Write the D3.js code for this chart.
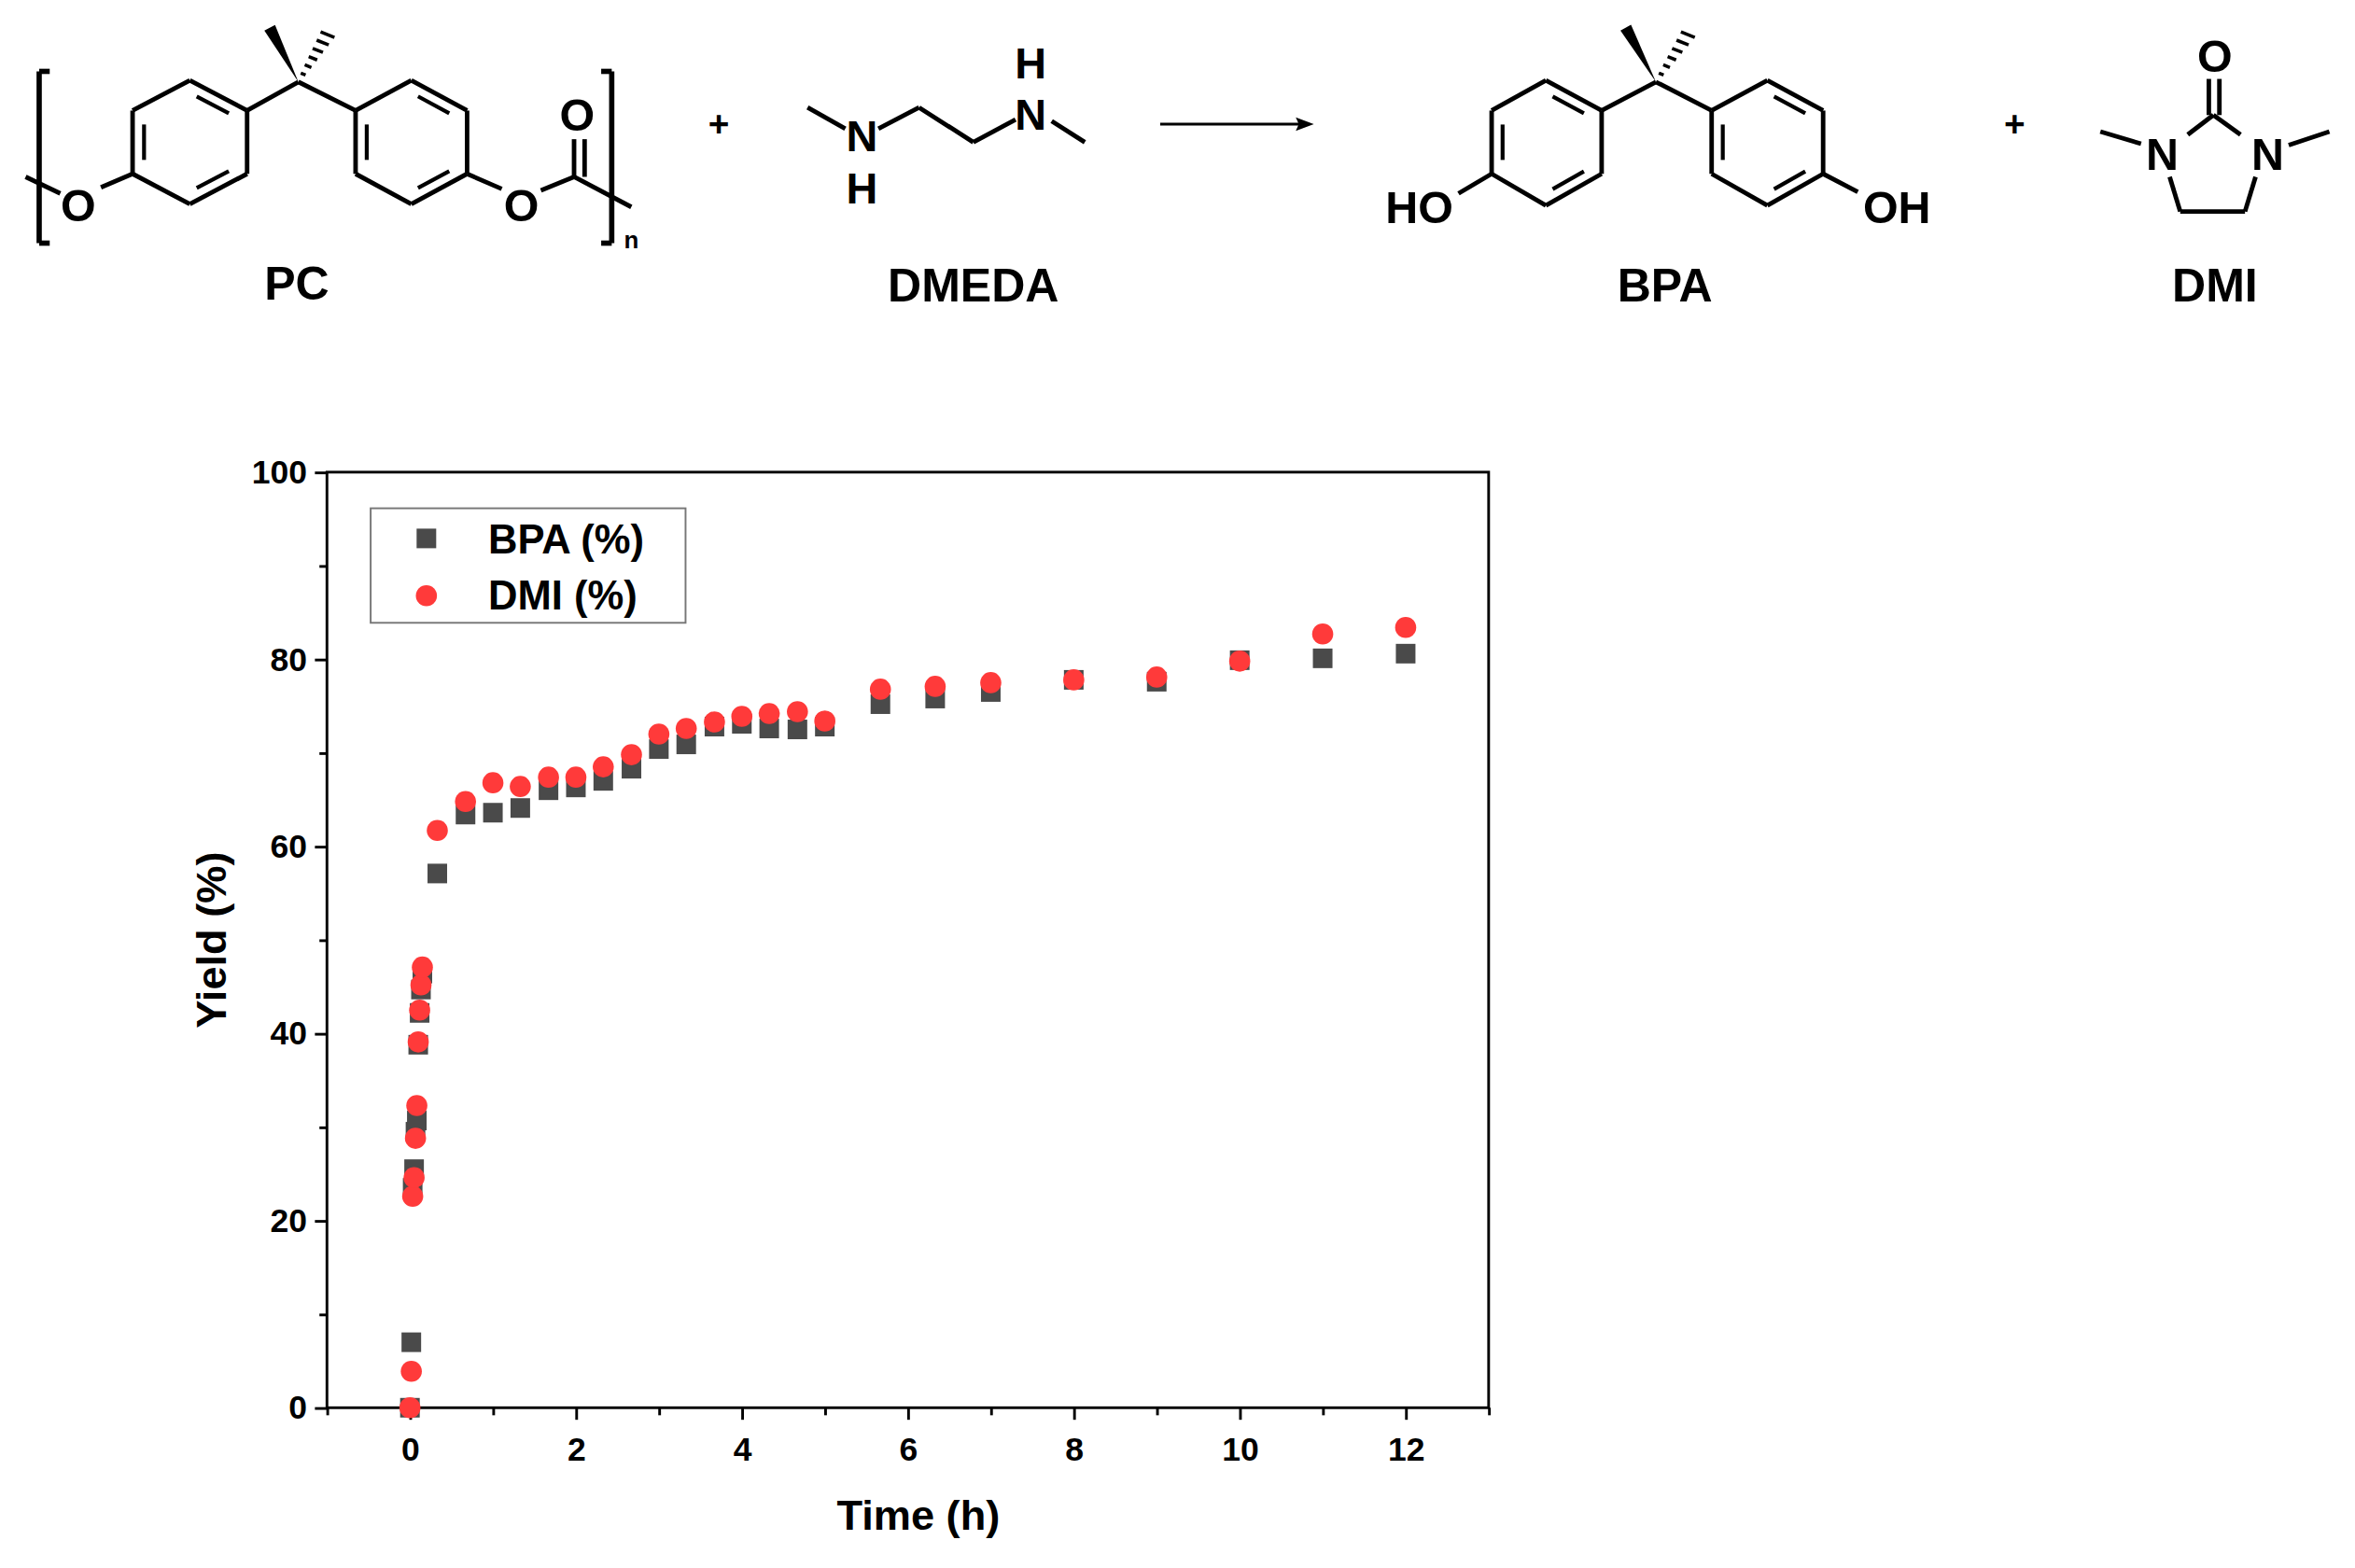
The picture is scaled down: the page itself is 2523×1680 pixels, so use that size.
<!DOCTYPE html>
<html><head><meta charset="utf-8">
<script src="https://cdn.jsdelivr.net/npm/d3@7"></script>
<style>body{margin:0;background:#fff}svg{display:block}</style>
</head><body>
<script>
const time = [0,0.0167,0.033,0.05,0.067,0.083,0.1,0.117,0.133,0.15,0.33,0.67,1,1.33,1.67,2,2.33,2.67,3,3.33,3.67,4,4.33,4.67,5,5.67,6.33,7,8,9,10,11,12];
const bpa = [0,7.0,23.5,25.5,29.5,30.7,38.8,42.2,44.7,46.4,57.1,63.4,63.6,64.1,66.0,66.3,67.0,68.3,70.4,70.9,72.8,73.1,72.6,72.5,72.8,75.2,75.8,76.5,77.8,77.6,79.9,80.1,80.6];
const dmi = [0,3.9,22.6,24.6,28.8,32.3,39.1,42.5,45.2,47.1,61.7,64.8,66.8,66.4,67.4,67.4,68.5,69.8,72.0,72.6,73.3,73.9,74.2,74.4,73.4,76.8,77.1,77.5,77.8,78.1,79.8,82.7,83.4];
const xTicks = [0,2,4,6,8,10,12];
const yTicks = [0,20,40,60,80,100];
const seriesNames = ["BPA (%)","DMI (%)"];

const svg = d3.select("body").append("svg").attr("width",2523).attr("height",1680).attr("viewBox","0 0 1563 1040");
const F = "Liberation Sans, Arial, sans-serif";
const L=217,R=988,T=313,B=934;
const x = d3.scaleLinear().domain([-1,13]).range([L,R]);
const y = d3.scaleLinear().domain([0,100]).range([B,T]);

svg.append("rect").attr("x",L).attr("y",T).attr("width",R-L).attr("height",B-T).attr("fill","none").attr("stroke","#000").attr("stroke-width",1.8);
const xa = svg.append("g").attr("transform",`translate(0,${B})`).call(d3.axisBottom(x).tickValues(xTicks).tickSize(8).tickFormat(d3.format("d")));
const xm = svg.append("g").attr("transform",`translate(0,${B})`).call(d3.axisBottom(x).tickValues(d3.range(-1,14,2)).tickSize(5).tickFormat(""));
const ya = svg.append("g").attr("transform",`translate(${L},0)`).call(d3.axisLeft(y).tickValues(yTicks).tickSize(8));
const ym = svg.append("g").attr("transform",`translate(${L},0)`).call(d3.axisLeft(y).tickValues(d3.range(10,100,20)).tickSize(5).tickFormat(""));
[xa,xm,ya,ym].forEach(g=>{g.select(".domain").remove();g.selectAll("line").attr("stroke","#000").attr("stroke-width",1.8);
 g.selectAll("text").attr("font-family",F).attr("font-weight","bold").attr("font-size",22).attr("fill","#000");});
xa.selectAll("text").attr("dy","1.1em");
ya.selectAll("text").attr("dx","-0.1em");
svg.append("text").attr("x",(L+R)/2+7).attr("y",1015).attr("text-anchor","middle").attr("font-family",F).attr("font-weight","bold").attr("font-size",28).text("Time (h)");
svg.append("text").attr("transform",`translate(150,${(T+B)/2}) rotate(-90)`).attr("text-anchor","middle").attr("font-family",F).attr("font-weight","bold").attr("font-size",28).text("Yield (%)");

const s=13;
svg.append("g").selectAll("rect").data(time).join("rect").attr("x",(d)=>x(d)-s/2).attr("y",(d,i)=>y(bpa[i])-s/2).attr("width",s).attr("height",s).attr("fill","#4a4a4a");
svg.append("g").selectAll("circle").data(time).join("circle").attr("cx",d=>x(d)).attr("cy",(d,i)=>y(dmi[i])).attr("r",7).attr("fill","#ff3a3a");

svg.append("rect").attr("x",246).attr("y",337).attr("width",209).attr("height",76).attr("fill","#fff").attr("stroke","#777").attr("stroke-width",1.2);
svg.append("rect").attr("x",283-s/2).attr("y",357-s/2).attr("width",s).attr("height",s).attr("fill","#4a4a4a");
svg.append("circle").attr("cx",283).attr("cy",395).attr("r",7).attr("fill","#ff3a3a");
seriesNames.forEach((n,i)=>svg.append("text").attr("x",324).attr("y",367+i*37).attr("font-family",F).attr("font-weight","bold").attr("font-size",27).text(n));

// ---- reaction scheme ----
const sc = svg.append("g").attr("stroke","#000").attr("stroke-width",3).attr("fill","none").attr("stroke-linecap","butt");
function line(a,b,w){sc.append("line").attr("x1",a[0]).attr("y1",a[1]).attr("x2",b[0]).attr("y2",b[1]).attr("stroke-width",w||3);}
function ring(v){
  for(let i=0;i<6;i++) line(v[i],v[(i+1)%6]);
  const c=[d3.mean(v,p=>p[0]),d3.mean(v,p=>p[1])];
  [[0,1],[2,3],[4,5]].forEach(([i,j])=>{
    const a=v[i],b=v[j];
    const p=t=>[a[0]+(b[0]-a[0])*t,a[1]+(b[1]-a[1])*t];
    const q=pt=>[pt[0]+(c[0]-pt[0])*0.2,pt[1]+(c[1]-pt[1])*0.2];
    line(q(p(0.15)),q(p(0.85)),2.6);
  });
}
function txt(t,xx,yy,size,bold){svg.append("text").attr("x",xx).attr("y",yy).attr("text-anchor","middle").attr("dominant-baseline","central")
  .attr("font-family",F).attr("font-weight","bold").attr("font-size",size).text(t);}
function wedge(c,tip){const dx=tip[0]-c[0],dy=tip[1]-c[1],l=Math.hypot(dx,dy),nx=-dy/l*4,ny=dx/l*4;
  svg.append("path").attr("d",`M${c[0]},${c[1]}L${tip[0]+nx},${tip[1]+ny}L${tip[0]-nx},${tip[1]-ny}Z`).attr("fill","#000");}
function hash(c,tip){for(let k=1;k<=6;k++){const t=k/6.5,px=c[0]+(tip[0]-c[0])*t,py=c[1]+(tip[1]-c[1])*t,h=1+k*0.6;
  line([px-h,py-h*0.4],[px+h,py+h*0.4],2.2);}}

ring([[126,53],[164,73],[164,115],[126,135],[88,115],[88,73]]);
ring([[273,53],[310,73],[310,115],[273,135],[236,115],[236,73]]);
line([164,73],[198,54]);line([198,54],[236,73]);
wedge([198,54],[179,18]);hash([198,54],[219,20]);
line([88,115],[67,124]);txt("O",52,136,30);line([40,128],[17,117]);
line([310,115],[333,125]);txt("O",346,136,30);line([359,126],[381,117]);
line([381,117],[381,92]);line([388,117],[388,92]);txt("O",383,76,30);
line([381,117],[419,137]);
line([26,47],[26,161],3.5);line([26,47],[33,47],3.5);line([26,161],[33,161],3.5);
line([406,47],[406,161],3.5);line([399,47],[406,47],3.5);line([399,161],[406,161],3.5);
txt("n",419,159,16);
txt("PC",197,188,31,true);
txt("+",477,82,24,true);
line([536,71],[561,85]);txt("N",572,90,29);txt("H",572,125,29);
line([583,85],[610,71]);line([610,71],[646,94]);line([646,94],[674,79]);
txt("N",684,76,29);txt("H",684,42,29);line([698,80],[720,94]);
txt("DMEDA",646,189,31,true);
line([770,82],[864,82],1.8);
svg.append("path").attr("d","M872,82L860,77.5L862,82L860,86.5Z").attr("fill","#000");
ring([[1026,53],[1063,73],[1063,115],[1026,136],[990,115],[990,73]]);
ring([[1173,53],[1210,73],[1210,115],[1173,136],[1136,115],[1136,73]]);
line([1063,73],[1099,54]);line([1099,54],[1136,73]);
wedge([1099,54],[1079,18]);hash([1099,54],[1122,20]);
line([990,115],[968,128]);txt("HO",942,137,30);
line([1210,115],[1233,127]);txt("OH",1259,137,30);
txt("BPA",1105,189,31,true);
txt("+",1337,82,24,true);
txt("O",1470,37,30);line([1466,52],[1466,76]);line([1473,52],[1473,76]);
line([1469,76],[1452,89]);line([1469,76],[1487,89]);
txt("N",1435,102,30);txt("N",1505,102,30);
line([1421,95],[1394,87]);line([1519,96],[1546,87]);
line([1440,117],[1447,140]);line([1447,140],[1490,140]);line([1490,140],[1497,117]);
txt("DMI",1470,189,31,true);
</script>
</body></html>
